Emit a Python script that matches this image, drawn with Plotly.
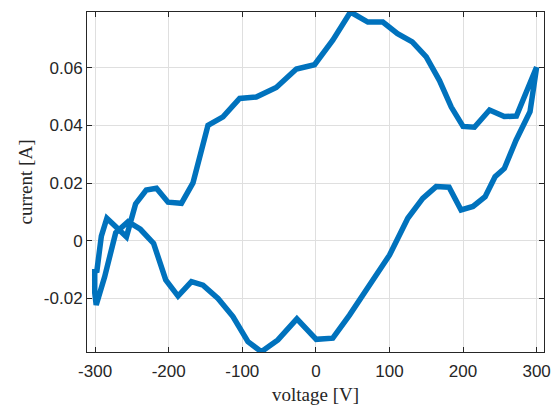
import plotly.graph_objects as go

# Data (voltage [V], current [A]); closed loop
voltage = [300, 288, 272.5, 256, 236, 215.4, 200, 184, 168, 150, 131, 111, 91, 70.6, 47, 23,
           -1.8, -26.5, -53.8, -81, -103.6, -126.2, -146.6, -167, -182.7, -200.9, -216.6,
           -230.5, -245, -257.4, -284, -291.5, -297.5, -300.5, -300.5, -298.5,
           -287, -272, -255.2, -238.5, -220.5, -204, -187.3, -169.1, -153.4, -133, -112.7,
           -92.3, -74.1, -51.6, -25.8, 0.5, 23, 45.7, 72.9, 100, 124.9, 145.2, 163.4, 181,
           197.3, 213.5, 230, 243.5, 256.1, 272, 291, 300]
current = [0.0603, 0.0525, 0.0433, 0.0431, 0.0454, 0.0394, 0.0397, 0.0464, 0.0556, 0.0638,
           0.0690, 0.0719, 0.0759, 0.0759, 0.0794, 0.0696,
           0.0611, 0.0596, 0.0532, 0.0499, 0.0494, 0.0430, 0.0401, 0.0201, 0.0130, 0.0134, 0.0182,
           0.0176, 0.0128, 0.0014, 0.0078, 0.0016, -0.0103, -0.0105, -0.0180, -0.0223,
           -0.0125, 0.0028, 0.0066, 0.0040, -0.0009, -0.0136, -0.0192, -0.0142, -0.0154, -0.0200, -0.0263,
           -0.0350, -0.0385, -0.0344, -0.0271, -0.0342, -0.0338, -0.0258, -0.0154, -0.0050, 0.0078, 0.0147, 0.0188, 0.0186,
           0.0107, 0.0119, 0.0153, 0.0222, 0.0251, 0.0349, 0.0448, 0.0603]

x_tickvals = [-300, -200, -100, 0, 100, 200, 300]
x_ticktext = ["-300", "-200", "-100", "0", "100", "200", "300"]
y_tickvals = [-0.02, 0, 0.02, 0.04, 0.06]
y_ticktext = ["-0.02", "0", "0.02", "0.04", "0.06"]

fig = go.Figure()
fig.add_trace(go.Scatter(x=voltage, y=current, mode="lines",
                         line=dict(color="#0072BD", width=5.5), showlegend=False))

axis_common = dict(
    showline=True, linecolor="#262626", linewidth=1, mirror="ticks",
    ticks="inside", ticklen=5, tickcolor="#262626",
    showgrid=True, gridcolor="#DFDFDF", gridwidth=1, zeroline=False,
    automargin=False,
    tickfont=dict(family="Liberation Sans, Arial, sans-serif", size=17, color="#262626"),
)

fig.update_xaxes(range=[-311, 310], tickvals=x_tickvals, ticktext=x_ticktext,
                 ticklabelstandoff=4,
                 title=dict(text="voltage [V]", standoff=9,
                            font=dict(family="Liberation Serif, Times New Roman, serif", size=19, color="#262626")),
                 **axis_common)
fig.update_yaxes(range=[-0.0386, 0.0794], tickvals=y_tickvals, ticktext=y_ticktext,
                 title=dict(text="current [A]", standoff=6,
                            font=dict(family="Liberation Serif, Times New Roman, serif", size=19, color="#262626")),
                 **axis_common)

fig.update_layout(width=553, height=405, margin=dict(l=87, r=9, t=12, b=53),
                  plot_bgcolor="white", paper_bgcolor="white")

fig.write_html("out.html")
